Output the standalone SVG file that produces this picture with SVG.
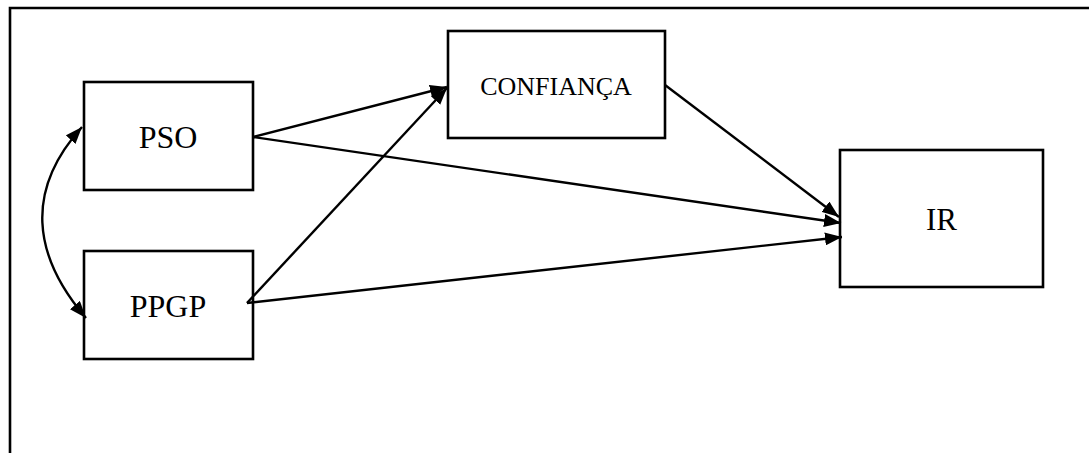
<svg xmlns="http://www.w3.org/2000/svg" width="1089" height="453" viewBox="0 0 1089 453">
<style>
.box{fill:#fff;stroke:#000;stroke-width:2.6}
.lbl{font-family:"Liberation Serif","Times New Roman",serif;fill:#000;text-anchor:middle}
.con{fill:none;stroke:#000;stroke-width:2.4}
</style>
<defs>
<marker id="ah" viewBox="0 0 17 13" refX="17" refY="6.5" markerWidth="17" markerHeight="13" markerUnits="userSpaceOnUse" orient="auto-start-reverse">
<path d="M0,0 L17,6.5 L0,13 z" fill="#000"/>
</marker>
</defs>
<rect width="1089" height="453" fill="#fff"/>
<path d="M10,460 L10,8 L1100,8" fill="none" stroke="#000" stroke-width="2.6"/>
<g id="PSO"><rect class="box" x="84" y="82" width="169" height="108"/><text class="lbl" x="168" y="148" font-size="32">PSO</text></g>
<g id="PPGP"><rect class="box" x="84" y="251" width="169" height="108"/><text class="lbl" x="168" y="317" font-size="32">PPGP</text></g>
<g id="CONFIANCA"><rect class="box" x="448" y="31" width="217" height="107"/><text class="lbl" x="556" y="95" font-size="26">CONFIANÇA</text></g>
<g id="IR"><rect class="box" x="840" y="150" width="203" height="137"/><text class="lbl" x="941.5" y="230" font-size="31">IR</text></g>
<g id="connectors">
<path class="con" d="M253,137 L447,87" marker-end="url(#ah)"/>
<path class="con" d="M253,137 L841,223" marker-end="url(#ah)"/>
<path class="con" d="M665,85 L839,217" marker-end="url(#ah)"/>
<path class="con" d="M247,303 L447,88" marker-end="url(#ah)"/>
<path class="con" d="M247,303 L842,237" marker-end="url(#ah)"/>
<path class="con" d="M82,127 C25,190 32,255 86,318" marker-start="url(#ah)" marker-end="url(#ah)"/>
</g>
</svg>
